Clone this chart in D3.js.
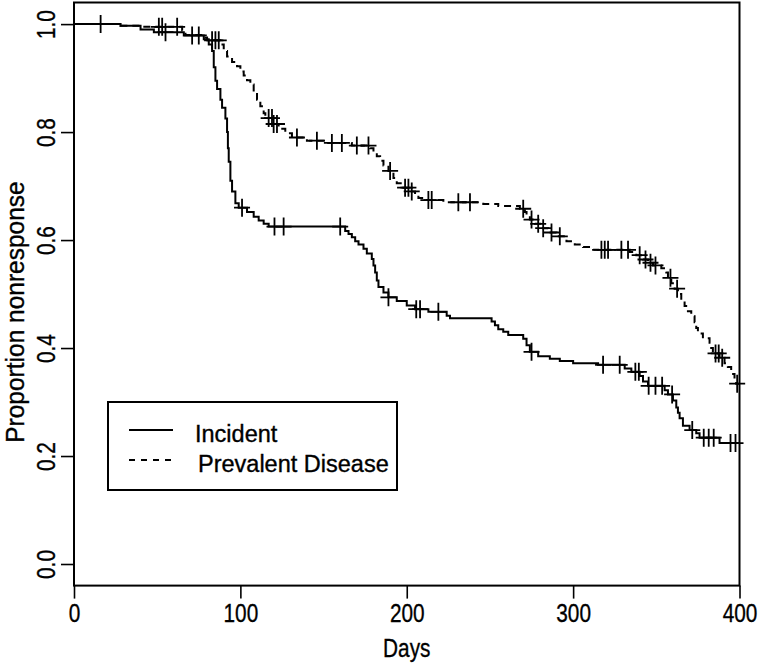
<!DOCTYPE html>
<html><head><meta charset="utf-8">
<script src="https://cdn.jsdelivr.net/npm/d3@7"></script>
<style>body{margin:0;background:#fff}svg{display:block}text{font-family:"Liberation Sans",Arial,sans-serif;fill:#000;stroke:#000;stroke-width:0.35px}</style>
</head><body><svg id="c" width="760" height="664"></svg>
<script>
// ---- data ----
const seriesNames = ["Incident", "Prevalent Disease"];
const xTicks = [0, 100, 200, 300, 400];
const yTicks = [0.0, 0.2, 0.4, 0.6, 0.8, 1.0];
const incidentSteps = [[0,1.0],[28,0.997],[40,0.99],[48,0.985],[66,0.979],[78,0.972],[81,0.962],[83,0.95],[84,0.92],[85,0.895],[86,0.88],[88,0.86],[89,0.845],[91,0.825],[92,0.80],[92.5,0.77],[93,0.745],[94,0.71],[95,0.69],[97,0.668],[99,0.66],[104,0.652],[108,0.643],[111,0.636],[114,0.63],[117,0.625],[163,0.617],[165,0.611],[167,0.605],[169,0.598],[171,0.592],[174,0.584],[176,0.575],[179,0.565],[180,0.553],[181,0.54],[182,0.525],[183,0.513],[186,0.503],[189,0.494],[194,0.487],[200,0.479],[205,0.472],[213,0.467],[224,0.46],[226,0.455],[251,0.449],[253,0.442],[255,0.435],[258,0.43],[261,0.424],[270,0.417],[272,0.405],[274,0.393],[279,0.385],[286,0.38],[292,0.376],[300,0.372],[315,0.369],[331,0.362],[335,0.356],[340,0.348],[342,0.338],[345,0.33],[355,0.322],[357,0.314],[360,0.303],[362,0.29],[363,0.28],[364,0.27],[366,0.256],[370,0.248],[374,0.242],[376,0.234],[388,0.224],[400,0.224]];
const incidentCensored = [16,55,71,75,101,120.5,126,160,189,205.7,208,219,275,318,328,337.4,339.5,345.4,349.5,353.5,359.5,371.6,378.5,381.5,384.5,394.6,397.6];
const prevalentSteps = [[0,1.0],[28,0.997],[40,0.995],[65,0.988],[67,0.98],[78,0.975],[80,0.97],[88,0.962],[90,0.95],[92,0.94],[95,0.93],[98,0.922],[100,0.912],[102,0.905],[104,0.896],[106,0.888],[108,0.875],[110,0.86],[112,0.848],[114,0.835],[115,0.826],[119.5,0.815],[123,0.806],[127,0.798],[131,0.79],[140,0.784],[150,0.78],[167,0.775],[178,0.77],[180,0.762],[182,0.755],[184,0.747],[186,0.738],[189,0.728],[192,0.715],[194,0.705],[197,0.697],[202,0.69],[205,0.684],[207,0.678],[211,0.674],[222,0.67],[246,0.667],[255,0.663],[268,0.658],[271,0.652],[272,0.645],[274,0.638],[277,0.63],[281,0.622],[285,0.614],[290,0.607],[296,0.598],[301,0.592],[306,0.587],[312,0.582],[334,0.578],[338,0.572],[342,0.564],[345,0.558],[348,0.553],[353,0.548],[356,0.54],[357,0.53],[359,0.52],[361,0.51],[363,0.5],[365,0.488],[367,0.478],[369,0.468],[371,0.459],[373,0.448],[374,0.437],[375,0.427],[378,0.418],[382,0.41],[383,0.4],[384,0.39],[388,0.382],[391,0.372],[393,0.365],[395,0.352],[397,0.342],[398,0.334],[400,0.334]];
const prevalentCensored = [51,53,62,83,85,87,117,119,120,122,134,146,155,161,170,177,190,199,201,203,213,215,231,238,270,275,279,282,287,292,317,319,321,329,333,340,343.5,346.5,349.5,358.5,362.5,385.6,387.5,389.6,398.6];
const xLabel = "Days", yLabel = "Proportion nonresponse";

// ---- chart ----
const svg = d3.select("#c");
const L = 74, R = 739.5, T = 2.5, B = 585.6;
const x = d3.scaleLinear().domain([0, 400]).range([L, R]);
const y = d3.scaleLinear().domain([-0.04, 1.04]).range([B, T]);

function stepAt(steps, t) { let v = steps[0][1]; for (const s of steps) { if (s[0] <= t) v = s[1]; else break; } return v; }

const line = d3.line().x(d => x(d[0])).y(d => y(d[1])).curve(d3.curveStepAfter);

const series = [
  {steps: incidentSteps, cens: incidentCensored, dash: null},
  {steps: prevalentSteps, cens: prevalentCensored, dash: "7,5"}
];
series.forEach(s => {
  svg.append("path").attr("d", line(s.steps)).attr("fill", "none").attr("stroke", "#000")
    .attr("stroke-width", 2).attr("stroke-dasharray", s.dash);
  const g = svg.append("g");
  s.cens.forEach(t => {
    const cx = x(t), cy = y(stepAt(s.steps, t));
    g.append("path").attr("d", `M${cx-8},${cy}H${cx+8}M${cx},${cy-9}V${cy+9}`)
      .attr("stroke", "#000").attr("stroke-width", 1.8).attr("fill", "none");
  });
});

// box
svg.append("rect").attr("x", L).attr("y", T).attr("width", R - L).attr("height", B - T)
  .attr("fill", "none").attr("stroke", "#000").attr("stroke-width", 2);

// axes
const xa = svg.append("g").attr("transform", `translate(0,${B})`)
  .call(d3.axisBottom(x).tickValues(xTicks).tickSize(13).tickFormat(d3.format("d")));
const ya = svg.append("g").attr("transform", `translate(${L},0)`)
  .call(d3.axisLeft(y).tickValues(yTicks).tickSize(13).tickFormat(d3.format(".1f")));
[xa, ya].forEach(a => { a.select(".domain").remove(); a.selectAll("line").attr("stroke", "#000").attr("stroke-width", 1.6); });
xa.selectAll("text").attr("y", null).attr("dy", null).attr("font-size", 26).attr("fill", "#000")
  .attr("transform", "translate(0,36) scale(0.8,1)").attr("text-anchor", "middle").style("font-family", "Liberation Sans, Arial, sans-serif");
ya.selectAll("text").attr("x", null).attr("dy", null).attr("font-size", 26).attr("fill", "#000")
  .attr("transform", "translate(-19,0) rotate(-90) scale(0.8,1)").attr("text-anchor", "middle").style("font-family", "Liberation Sans, Arial, sans-serif");

svg.append("text").attr("transform", `translate(${(L+R)/2},657) scale(0.8,1)`).attr("text-anchor", "middle")
  .attr("font-size", 26).text(xLabel);
svg.append("text").attr("transform", `translate(24,312) rotate(-90) scale(0.98,1)`).attr("text-anchor", "middle")
  .attr("font-size", 25).text(yLabel);

// legend
const lg = svg.append("g");
lg.append("rect").attr("x", 108).attr("y", 402).attr("width", 289).attr("height", 88)
  .attr("fill", "#fff").attr("stroke", "#000").attr("stroke-width", 2);
const legDash = [null, "6,6"];
const legX = [195, 198];
seriesNames.forEach((n, i) => {
  const ly = 430 + i * 30;
  lg.append("line").attr("x1", 129).attr("x2", 173).attr("y1", ly).attr("y2", ly)
    .attr("stroke", "#000").attr("stroke-width", 2).attr("stroke-dasharray", legDash[i]);
  lg.append("text").attr("x", legX[i]).attr("y", ly + 12).attr("font-size", 23.5).text(n);
});
</script></body></html>
